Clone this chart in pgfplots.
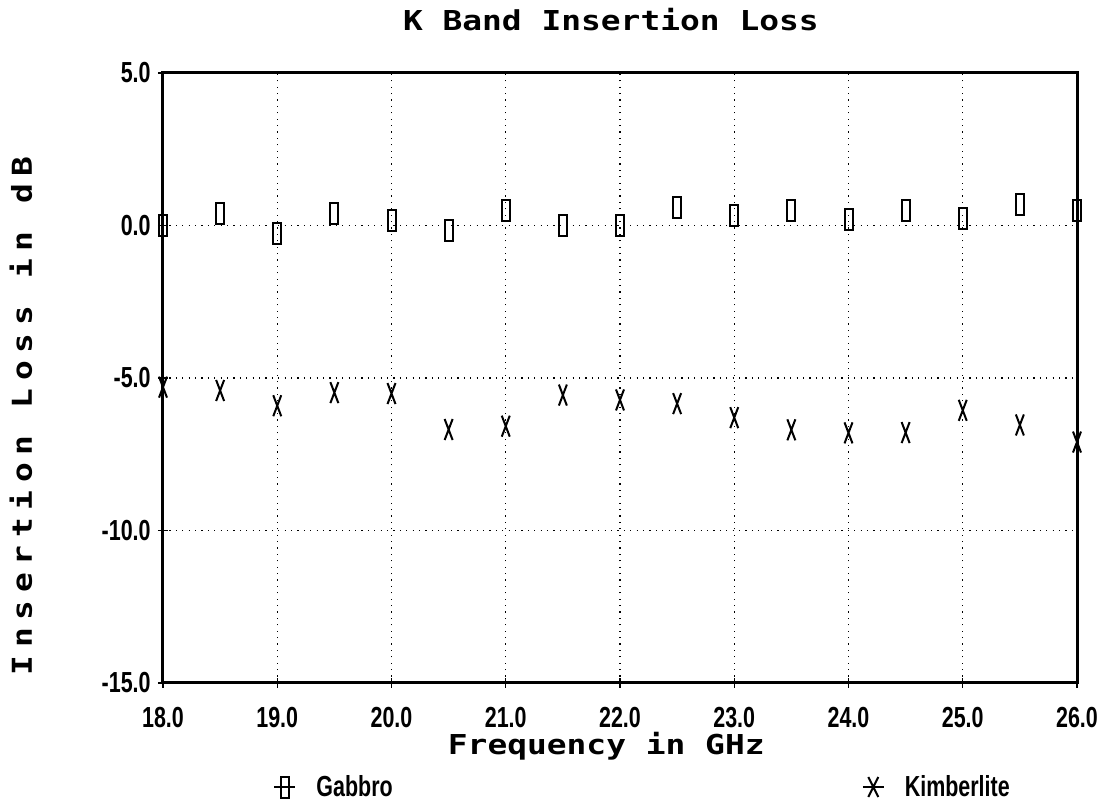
\documentclass[border=0pt]{standalone}
\usepackage{fontspec}
\usepackage{pgfplots}
\pgfplotsset{compat=1.18}
\usetikzlibrary{calc}
\newfontfamily\tickfont[FakeStretch=0.74]{Liberation Sans}
\newfontfamily\monofont[FakeStretch=1.2]{DejaVu Sans Mono}
\newfontfamily\ylabfont[FakeStretch=1.2,LetterSpace=28]{DejaVu Sans Mono}
\newcommand\tfont{\tickfont\bfseries\fontsize{14.5}{16}\selectfont}
\newcommand\mfont{\monofont\bfseries\fontsize{13.7}{15}\selectfont}
\newcommand\yfont{\ylabfont\bfseries\fontsize{13.7}{15}\selectfont}

\pgfdeclareplotmark{tallbox}{%
  \pgfpathrectangle{\pgfpoint{-2pt}{-5.25pt}}{\pgfpoint{4pt}{10.5pt}}%
  \pgfusepathqstroke}
\pgfdeclareplotmark{tallx}{%
  \pgfpathmoveto{\pgfpoint{-2pt}{-5.25pt}}\pgfpathlineto{\pgfpoint{2pt}{5.25pt}}%
  \pgfpathmoveto{\pgfpoint{-2pt}{5.25pt}}\pgfpathlineto{\pgfpoint{2pt}{-5.25pt}}%
  \pgfusepathqstroke}
\pgfdeclareplotmark{starx}{%
  \pgfpathmoveto{\pgfpoint{-2.5pt}{-5pt}}\pgfpathlineto{\pgfpoint{2.5pt}{5pt}}%
  \pgfpathmoveto{\pgfpoint{-2.5pt}{5pt}}\pgfpathlineto{\pgfpoint{2.5pt}{-5pt}}%
  \pgfusepathqstroke}

\pgfplotstableread{
x y
18.0 0.00
18.5 0.39
19.0 -0.27
19.5 0.40
20.0 0.18
20.5 -0.18
21.0 0.50
21.5 0.00
22.0 -0.01
22.5 0.60
23.0 0.34
23.5 0.48
24.0 0.19
24.5 0.48
25.0 0.22
25.5 0.69
26.0 0.48
}\gabbro

\pgfplotstableread{
x y
18.0 -5.30
18.5 -5.41
19.0 -5.91
19.5 -5.48
20.0 -5.51
20.5 -6.69
21.0 -6.58
21.5 -5.56
22.0 -5.72
22.5 -5.84
23.0 -6.30
23.5 -6.70
24.0 -6.80
24.5 -6.79
25.0 -6.06
25.5 -6.54
26.0 -7.10
}\kimberlite

\begin{document}
\begin{tikzpicture}
\begin{axis}[
  scale only axis, width=457pt, height=305pt,
  xmin=18, xmax=26, ymin=-15, ymax=5,
  xtick={18,19,...,26}, ytick={-15,-10,-5,0,5},
  xtick pos=lower, ytick pos=left,
  axis line style={line width=1.5pt},
  grid=major,
  major grid style={black, line width=0.6pt, dash pattern=on 0.6pt off 2.6pt},
  tick style={black, line width=0.7pt}, major tick length=5pt, tick align=center,
  /pgf/number format/fixed, /pgf/number format/fixed zerofill,
  /pgf/number format/precision=1, /pgf/number format/assume math mode=true,
  ticklabel style={font=\tfont, inner sep=0pt},
  yticklabel style={xshift=-3.5pt},
  xticklabel style={yshift=-9.5pt},
  title={K Band Insertion Loss},
  title style={font=\mfont, at={(axis description cs:0.49,1.0672)}, anchor=center, yshift=0pt},
  xlabel={Frequency in GHz},
  xlabel style={font=\mfont, at={(axis description cs:0.485,-0.1033)}, anchor=center},
  ylabel={Insertion Loss in dB},
  ylabel style={font=\yfont, at={(axis description cs:-0.1553,0.438)}, anchor=center},
  legend columns=2, legend cell align=left,
  legend style={at={(axis description cs:0.1209,-0.1705)}, anchor=west,
    draw=none, fill=none, inner sep=0pt, outer sep=0pt,
    nodes={inner sep=0pt, font=\tfont},
    /tikz/every odd column/.append style={column sep=10pt},
    /tikz/every even column/.append style={column sep=234.5pt}},
]
\addplot[only marks, mark=tallbox, mark options={black, line width=1pt},
  legend image code/.code={\draw[black, line width=1pt] (0pt,0pt)--(10.5pt,0pt); \draw[black, line width=1pt] plot[only marks, mark=tallbox] coordinates {(5.25pt,0pt)};}]
  table[x=x, y=y] {\gabbro};
\addlegendentry{Gabbro}
\addplot[only marks, mark=tallx, mark options={black, line width=1pt},
  legend image code/.code={\draw[black, line width=1pt] (0pt,0pt)--(10.5pt,0pt); \draw[black, line width=1pt] plot[only marks, mark=starx] coordinates {(5.25pt,0pt)};}]
  table[x=x, y=y] {\kimberlite};
\addlegendentry{Kimberlite}
\end{axis}
\pgfresetboundingbox
\path[use as bounding box] ($(current axis.south west)+(-81.5pt,-59.5pt)$) rectangle ($(current axis.north east)+(15pt,36.5pt)$);
\end{tikzpicture}
\end{document}
